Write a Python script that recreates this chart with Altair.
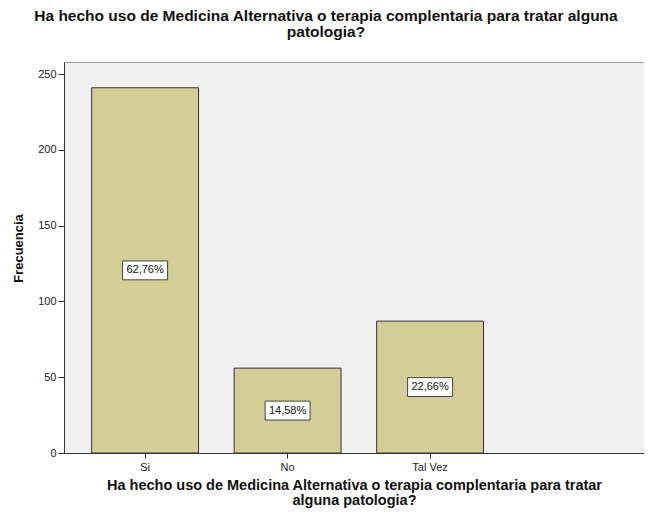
import altair as alt
import pandas as pd

categories = ["Si", "No", "Tal Vez"]
counts = [241, 56, 87]
pct_labels = ["62,76%", "14,58%", "22,66%"]

df = pd.DataFrame({"cat": categories, "n": counts, "pct": pct_labels})

FONT = "Arial, Liberation Sans, sans-serif"
title_txt = ["Ha hecho uso de Medicina Alternativa o terapia complentaria para tratar alguna", "patologia?"]
xtitle_txt = ["Ha hecho uso de Medicina Alternativa o terapia complentaria para tratar", "alguna patologia?"]

xscale = alt.Scale(domain=categories, paddingInner=0.25, paddingOuter=0.66, align=0.147)
yscale = alt.Scale(domain=[0, 258], nice=False)

base = alt.Chart(df)

bars = base.mark_bar(color="#d3ce97", stroke="#333333", strokeWidth=1).encode(
    x=alt.X("cat:N", scale=xscale, sort=categories,
            axis=alt.Axis(title=xtitle_txt, labelAngle=0, labelFontSize=11, labelColor="#222",
                          tickSize=5, tickColor="#333", domainColor="#333",
                          titleFontSize=14.5, titleFontWeight="bold", titleColor="#111",
                          titlePadding=6, labelPadding=3, titleLineHeight=15)),
    y=alt.Y("n:Q", scale=yscale,
            axis=alt.Axis(title="Frecuencia", values=[0, 50, 100, 150, 200, 250], grid=False,
                          labelFontSize=11, labelColor="#222", tickSize=6, tickColor="#333",
                          domainColor="#333", titleFontSize=13, titleFontWeight="bold",
                          titleColor="#111", titlePadding=12, titleY=186)),
)

boxes = base.transform_calculate(half="datum.n / 2").mark_point(
    shape="M-1,-0.42H1V0.42H-1Z", size=2025, filled=True, fill="white",
    stroke="#444444", strokeWidth=1, opacity=1
).encode(
    x=alt.X("cat:N", scale=xscale, sort=categories),
    y=alt.Y("half:Q", scale=yscale),
)

texts = base.transform_calculate(half="datum.n / 2").mark_text(
    font=FONT, fontSize=11, color="#111"
).encode(
    x=alt.X("cat:N", scale=xscale, sort=categories),
    y=alt.Y("half:Q", scale=yscale),
    text="pct:N",
)

chart = alt.layer(bars, boxes, texts).properties(
    width=580, height=391,
    title=alt.TitleParams(text=title_txt, fontSize=15.5, fontWeight="bold", font=FONT,
                          color="#111", anchor="middle", dx=-28, offset=22, lineHeight=15.5),
    autosize=alt.AutoSizeParams(type="none"),
    padding={"left": 56, "top": 54, "right": 0, "bottom": 58},
).configure(font=FONT).configure_view(
    fill="#f0f0f0", stroke="#999999"
).configure_axis(labelFont=FONT, titleFont=FONT)

chart.save("out.html", embed_options={"renderer": "svg", "actions": False})
